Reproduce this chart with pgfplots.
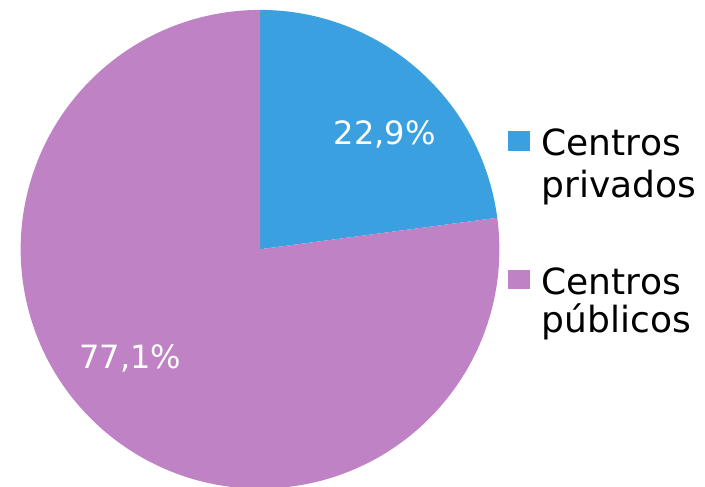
\documentclass[border=0pt]{standalone}
\usepackage{pgfplots}
\usepackage{pgfplotstable}
\pgfplotsset{compat=1.18}
\usepackage{fontspec}
\setmainfont{DejaVu Sans}
\definecolor{privado}{HTML}{3BA0DF}
\definecolor{publico}{HTML}{BF82C4}

% shares of each sector (percent)
\pgfplotstableread{
sector value
privados 22.9
publicos 77.1
}\sharetable

\begin{document}
\pgfplotstablegetelem{0}{value}\of\sharetable
\let\vpriv\pgfplotsretval
\pgfplotstablegetelem{1}{value}\of\sharetable
\let\vpub\pgfplotsretval
\pgfmathsetmacro{\aend}{90-3.6*\vpriv}
\pgfmathsetmacro{\bend}{\aend-3.6*\vpub}
\begin{tikzpicture}
\begin{axis}[
  at={(0,0)}, anchor=origin,
  width=705bp, height=491bp, scale only axis,
  xmin=0, xmax=705, ymin=0, ymax=491,
  hide axis, clip=false,
]
% slices, clockwise from 12 o'clock
\fill[privado] (axis cs:256,239.5) -- ++(90:241.5bp) arc[start angle=90, end angle=\aend, radius=241.5bp] -- cycle;
\fill[publico] (axis cs:256,239.5) -- ++(\aend:241.5bp) arc[start angle=\aend, end angle=\bend, radius=241.5bp] -- cycle;
% data labels
\node[text=white, font=\fontsize{32.5}{38}\selectfont] at (axis cs:382,355) {22,9\%};
\node[text=white, font=\fontsize{32.5}{38}\selectfont] at (axis cs:125,129) {77,1\%};
% legend
\fill[privado] (axis cs:506,339) rectangle (axis cs:528,359);
\fill[publico] (axis cs:506,199) rectangle (axis cs:528,219);
\begin{scope}[every node/.style={anchor=base west, inner sep=0pt, font=\fontsize{36.5}{42}\selectfont}]
\node at (axis cs:540,334) {Centros};
\node at (axis cs:540,292) {privados};
\node at (axis cs:540,194) {Centros};
\node at (axis cs:540,156) {públicos};
\end{scope}
\end{axis}
\pgfresetboundingbox
\path (0,0) rectangle (705bp,491bp);
\end{tikzpicture}
\end{document}
